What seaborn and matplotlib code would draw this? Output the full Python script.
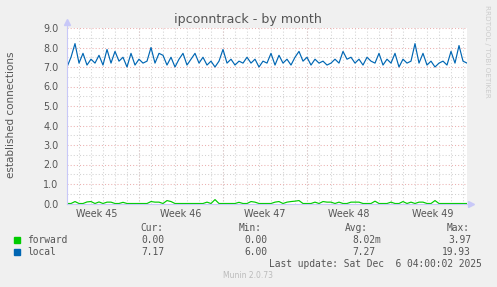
import numpy as np
import pandas as pd
import matplotlib
matplotlib.use("Agg")
import matplotlib.pyplot as plt
import seaborn as sns

# ---------------- data ----------------
local = [7.0, 7.5, 8.2, 7.2, 7.7, 7.1, 7.4, 7.2, 7.6, 7.1,
         7.9, 7.2, 7.8, 7.3, 7.5, 7.0, 7.7, 7.1, 7.4, 7.2,
         7.3, 8.0, 7.2, 7.7, 7.6, 7.1, 7.5, 7.0, 7.4, 7.7,
         7.1, 7.4, 7.7, 7.2, 7.5, 7.1, 7.3, 7.0, 7.3, 7.9,
         7.2, 7.4, 7.1, 7.3, 7.2, 7.5, 7.2, 7.4, 7.0, 7.3,
         7.2, 7.7, 7.1, 7.6, 7.2, 7.4, 7.1, 7.5, 7.8, 7.3,
         7.5, 7.1, 7.4, 7.2, 7.3, 7.1, 7.2, 7.4, 7.2, 7.8,
         7.4, 7.5, 7.2, 7.4, 7.1, 7.5, 7.3, 7.2, 7.7, 7.1,
         7.4, 7.2, 7.7, 7.0, 7.4, 7.2, 7.3, 8.2, 7.2, 7.7,
         7.1, 7.3, 7.0, 7.2, 7.3, 7.1, 7.8, 7.2, 8.1, 7.3,
         7.2]
forward = [0, 0, .10, 0, 0, .08, .10, 0, .08, 0,
           .07, .07, 0, 0, .06, 0, 0, 0, 0, 0,
           0, .10, .07, .07, 0, .15, .10, 0, 0, 0,
           0, 0, 0, 0, 0, .07, 0, .20, 0, 0,
           0, 0, 0, .06, 0, 0, .10, .07, 0, 0,
           0, 0, .07, .10, 0, .07, .10, .12, .15, 0,
           0, 0, .07, 0, .10, .07, .07, 0, .07, 0,
           0, .07, .07, .07, 0, 0, 0, .12, 0, 0,
           0, .07, 0, 0, .10, 0, .07, 0, .07, .07,
           0, 0, .15, 0, 0, 0, 0, 0, 0, 0,
           0]
samples_per_day = 3          # one sample every 8 hours
span_days = 400 / 12         # graph width in days
week_labels = ["Week 45", "Week 46", "Week 47", "Week 48", "Week 49"]
week_first_boundary = 6      # day of the first week boundary
series_names = ["forward", "local"]
series_colors = ["#00CC00", "#0066B3"]
stat_headers = ["Cur:", "Min:", "Avg:", "Max:"]
stats = {"forward": ["0.00", "0.00", "8.02m", "3.97"],
         "local": ["7.17", "6.00", "7.27", "19.93"]}
title = "ipconntrack - by month"
ylabel = "established connections"
last_update = "Last update: Sat Dec  6 04:00:02 2025"
footer = "Munin 2.0.73"
side = "RRDTOOL / TOBI OETIKER"

# ---------------- figure ----------------
sns.set_style("white")
plt.rcParams['font.family'] = ['DejaVu Sans']
W, H = 497, 287
fig = plt.figure(figsize=(W / 100, H / 100), dpi=100, facecolor="#F0F0F0")
ax = fig.add_axes([67 / W, 1 - 203.5 / H, 400 / W, 175.5 / H])
ax.set_facecolor("white")

days = np.arange(len(local)) / samples_per_day
df = pd.DataFrame({"day": np.concatenate([days, days]),
                   "value": np.concatenate([forward, local]),
                   "series": ["forward"] * len(forward) + ["local"] * len(local)})

ax.set_xlim(0, span_days)
ax.set_ylim(0, 9)
ax.set_yticks(np.arange(0, 9.01, 1.0))
ax.set_yticks(np.arange(0.5, 9, 1.0), minor=True)
ax.set_xticks(np.arange(1, span_days, 1.0), minor=True)
ax.grid(False)
dot = (0, (1, 2))
ax.grid(which="major", axis="y", color="#EBB0B0", linestyle=dot, linewidth=0.75)
ax.grid(which="minor", axis="y", color="#D2D2D2", linestyle=dot, linewidth=0.75)
ax.grid(which="minor", axis="x", color="#D2D2D2", linestyle=dot, linewidth=0.75)
boundaries = np.arange(week_first_boundary, span_days, 7)
for b in boundaries:
    ax.axvline(b, color="#EBB0B0", linestyle=dot, linewidth=0.75, zorder=0.5)
ax.set_axisbelow(True)

sns.lineplot(data=df, x="day", y="value", hue="series", hue_order=series_names,
             palette=series_colors, linewidth=0.85, legend=False, ax=ax,
             estimator=None, sort=False)

# week labels at mid week
centers = week_first_boundary - 3.5 + 7 * np.arange(len(week_labels))
ax.set_xticks(centers)
ax.set_xticklabels(week_labels)
ax.set_yticklabels([f"{v:.1f}" for v in np.arange(0, 9.01, 1.0)])
ax.tick_params(axis="both", which="both", length=0, labelsize=6.9, labelcolor="#555555")
ax.tick_params(axis="x", pad=4)
ax.tick_params(axis="y", pad=6)
ax.set_xlabel("")
ax.set_ylabel("")

for s in ["top", "right"]:
    ax.spines[s].set_visible(False)
for s in ["left", "bottom"]:
    ax.spines[s].set_color("#C8C8F8")
    ax.spines[s].set_linewidth(0.8)
ax.plot([0], [9.3], marker="^", markersize=4, color="#C8C8F8", clip_on=False)
ax.plot([span_days + 0.3], [0], marker=">", markersize=4, color="#C8C8F8", clip_on=False)
ax.plot([0, 0], [9, 9.3], color="#C8C8F8", lw=0.8, clip_on=False)
ax.plot([span_days, span_days + 0.3], [0, 0], color="#C8C8F8", lw=0.8, clip_on=False)

def px(x, y):
    return x / W, 1 - y / H

fig.text(*px(248, 19), title, ha="center", va="center", fontsize=9.1, color="#555555")
fig.text(*px(11, 115), ylabel, ha="center", va="center", rotation=90, fontsize=7.5, color="#555555")
fig.text(*px(487, 5), side, ha="center", va="top", rotation=270, fontsize=5.2, color="#CCCCCC")

mono = "DejaVu Sans Mono"
fs = 6.9
col_right = [170, 273, 381, 477]
hdr_right = [163, 262, 368, 470]
for h, xr in zip(stat_headers, hdr_right):
    fig.text(*px(xr, 228), h, ha="right", va="center", family=mono, fontsize=fs, color="#555555")
for i, (name, c) in enumerate(zip(series_names, series_colors)):
    y = 240 + i * 12
    fig.patches.append(plt.Rectangle(px(14, y + 3), 6 / W, 6 / H, transform=fig.transFigure,
                                     color=c, figure=fig))
    fig.text(*px(27, y), name, ha="left", va="center", family=mono, fontsize=fs, color="#555555")
    for v, xr in zip(stats[name], col_right):
        if v.endswith("m"):
            fig.text(*px(xr, y), v, ha="right", va="center", family=mono, fontsize=fs, color="#555555")
        else:
            fig.text(*px(xr - 6, y), v, ha="right", va="center", family=mono, fontsize=fs, color="#555555")
fig.text(*px(482, 264), last_update, ha="right", va="center", family=mono, fontsize=fs, color="#555555")
fig.text(*px(248, 276), footer, ha="center", va="center", fontsize=5.5, color="#BBBBBB")

fig.savefig("out.png", dpi=100, facecolor=fig.get_facecolor())
